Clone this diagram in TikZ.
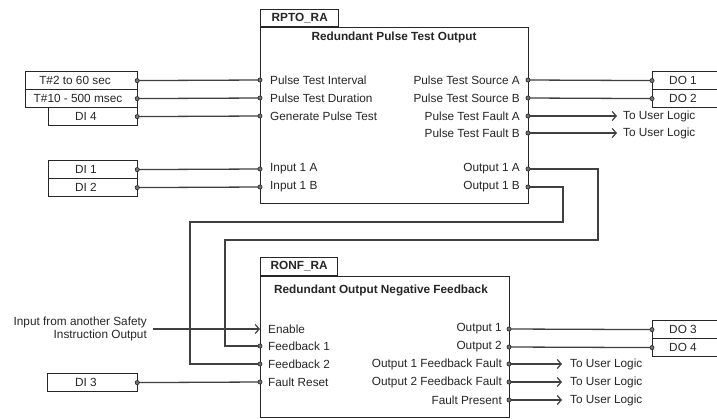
\documentclass[tikz,border=0pt]{standalone}
\usepackage{fontspec}
\setmainfont{Liberation Sans}
\usetikzlibrary{arrows.meta}
\begin{document}
\begin{tikzpicture}[x=1pt,y=-1pt,
  wire/.style={draw=black!75,line width=1.3pt},
  box/.style={draw=black!85,line width=1.4pt},
  lbl/.style={font=\fontsize{11.8}{13.5}\selectfont,inner sep=0pt,text=black!85},
  blbl/.style={font=\fontsize{11.8}{13.5}\selectfont\bfseries,inner sep=0pt,text=black!85},
  iobox/.style={draw=black!85,line width=1.2pt,inner sep=0pt},
  pin/.style={circle,draw=black!85,fill=black!55,line width=0.6pt,inner sep=0pt,minimum size=4.2pt},
  arr/.style={wire,-{Straight Barb[length=4pt,width=9pt,line width=1.2pt]}}
]
\clip (0,0) rectangle (717,419);
\fill[white] (0,0) rectangle (717,419);

% ---------------- RPTO_RA block ----------------
\node[box,minimum width=268pt,minimum height=176pt,inner sep=0pt,anchor=north west] (rpto) at (260,27) {};
\node[box,minimum width=78pt,minimum height=17pt,inner sep=0pt,anchor=south west] (rptotab) at (260,27) {};
\node[blbl] (rptoname) at (rptotab.center) {RPTO\_RA};
\node[blbl] (rptotitle) at (394,37) {Redundant Pulse Test Output};

\coordinate (pti) at (260,80);
\coordinate (ptd) at (260,98);
\coordinate (gpt) at (260,116);
\coordinate (i1a) at (260,169);
\coordinate (i1b) at (260,187);
\coordinate (psa) at (528,80);
\coordinate (psb) at (528,98);
\coordinate (pfa) at (528,116);
\coordinate (pfb) at (528,133);
\coordinate (o1a) at (528,169);
\coordinate (o1b) at (528,187);

\node[lbl,anchor=west] (lpti) at (270,80) {Pulse Test Interval};
\node[lbl,anchor=west] (lptd) at (270,98) {Pulse Test Duration};
\node[lbl,anchor=west] (lgpt) at (270,116) {Generate Pulse Test};
\node[lbl,anchor=west] (li1a) at (270,169) {Input 1 A};
\node[lbl,anchor=west] (li1b) at (270,187) {Input 1 B};
\node[lbl,anchor=east] (lpsa) at (520,80) {Pulse Test Source A};
\node[lbl,anchor=east] (lpsb) at (520,98) {Pulse Test Source B};
\node[lbl,anchor=east] (lpfa) at (520,116) {Pulse Test Fault A};
\node[lbl,anchor=east] (lpfb) at (520,133) {Pulse Test Fault B};
\node[lbl,anchor=east] (lo1a) at (520,169) {Output 1 A};
\node[lbl,anchor=east] (lo1b) at (520,187) {Output 1 B};

% input boxes
\node[iobox,minimum width=112pt,minimum height=18pt,anchor=north west] (t2) at (25,71) {};
\node[iobox,minimum width=112pt,minimum height=18pt,anchor=north west] (t10) at (25,89) {};
\node[iobox,minimum width=89pt,minimum height=18pt,anchor=north west] (di4) at (48,107) {};
\node[lbl] (tt2) at (75,80) {T\#2 to 60 sec};
\node[lbl] (tt10) at (78,98) {T\#10 - 500 msec};
\node[lbl] (tdi4) at (86,116) {DI 4};

\node[iobox,minimum width=89pt,minimum height=18pt,anchor=north west] (di1) at (48,160) {};
\node[iobox,minimum width=89pt,minimum height=18pt,anchor=north west] (di2) at (48,178) {};
\node[lbl] (tdi1) at (86,169) {DI 1};
\node[lbl] (tdi2) at (86,187) {DI 2};

% output boxes
\node[iobox,minimum width=80pt,minimum height=18pt,anchor=north west] (do1) at (652,71) {};
\node[iobox,minimum width=80pt,minimum height=18pt,anchor=north west] (do2) at (652,89) {};
\node[lbl] (tdo1) at (683,80) {DO 1};
\node[lbl] (tdo2) at (683,98) {DO 2};

\coordinate (ul1) at (617,116);
\coordinate (ul2) at (617,133);
\node[lbl,anchor=west] (tul1) at (623,116) {To User Logic};
\node[lbl,anchor=west] (tul2) at (623,133) {To User Logic};

\draw[wire] (t2.east) -- (pti);
\draw[wire] (t10.east) -- (ptd);
\draw[wire] (di4.east) -- (gpt);
\draw[wire] (di1.east) -- (i1a);
\draw[wire] (di2.east) -- (i1b);
\draw[wire] (psa) -- (do1.west);
\draw[wire] (psb) -- (do2.west);
\draw[arr] (pfa) -- (ul1);
\draw[arr] (pfb) -- (ul2);

% ---------------- RONF_RA block ----------------
\node[box,minimum width=249pt,minimum height=141pt,inner sep=0pt,anchor=north west] (ronf) at (260,276) {};
\node[box,minimum width=77pt,minimum height=18pt,inner sep=0pt,anchor=south west] (ronftab) at (260,276) {};
\node[blbl] (ronfname) at (ronftab.center) {RONF\_RA};
\node[blbl] (ronftitle) at (381,290) {Redundant Output Negative Feedback};

\coordinate (en) at (260,329);
\coordinate (fb1) at (260,346);
\coordinate (fb2) at (260,364);
\coordinate (fr) at (260,382);
\coordinate (out1) at (509,329);
\coordinate (out2) at (509,347);
\coordinate (f1f) at (509,364);
\coordinate (f2f) at (509,382);
\coordinate (fp) at (509,400);

\node[lbl,anchor=west] (len) at (268,329) {Enable};
\node[lbl,anchor=west] (lfb1) at (268,346) {Feedback 1};
\node[lbl,anchor=west] (lfb2) at (268,364) {Feedback 2};
\node[lbl,anchor=west] (lfr) at (268,382) {Fault Reset};
\node[lbl,anchor=east] (lout1) at (502,329) {Output 1};
\node[lbl,anchor=east] (lout2) at (502,347) {Output 2};
\node[lbl,anchor=east] (lf1f) at (502,364) {Output 1 Feedback Fault};
\node[lbl,anchor=east] (lf2f) at (502,382) {Output 2 Feedback Fault};
\node[lbl,anchor=east] (lfp) at (502,400) {Fault Present};

\node[lbl,anchor=east,align=right] (src) at (147,329) {Input from another Safety\\Instruction Output};
\coordinate (srcend) at (153,329);

\node[iobox,minimum width=90pt,minimum height=18pt,anchor=north west] (di3) at (47,373) {};
\node[lbl] (tdi3) at (86,382) {DI 3};

\node[iobox,minimum width=80pt,minimum height=18pt,anchor=north west] (do3) at (652,320) {};
\node[iobox,minimum width=80pt,minimum height=18pt,anchor=north west] (do4) at (652,338) {};
\node[lbl] (tdo3) at (683,329) {DO 3};
\node[lbl] (tdo4) at (683,347) {DO 4};

\coordinate (ul3) at (562,364);
\coordinate (ul4) at (562,382);
\coordinate (ul5) at (562,400);
\node[lbl,anchor=west] (tul3) at (570,364) {To User Logic};
\node[lbl,anchor=west] (tul4) at (570,382) {To User Logic};
\node[lbl,anchor=west] (tul5) at (570,400) {To User Logic};

\draw[arr] (srcend) -- (en);
\draw[wire] (di3.east) -- (fr);
\draw[wire] (out1) -- (do3.west);
\draw[wire] (out2) -- (do4.west);
\draw[arr] (f1f) -- (ul3);
\draw[arr] (f2f) -- (ul4);
\draw[arr] (fp) -- (ul5);

% feedback wires
\draw[wire] (o1a) -- (598,169) -- (598,240) -- (225,240) -- (225,346) -- (fb1);
\draw[wire] (o1b) -- (563,187) -- (563,222) -- (190,222) -- (190,364) -- (fb2);

% pin dots
\foreach \p in {pti,ptd,gpt,i1a,i1b,psa,psb,pfa,pfb,o1a,o1b,fb1,fb2,fr,out1,out2,f1f,f2f,fp}
  \node[pin] at (\p) {};
\foreach \b in {t2,t10,di4,di1,di2,di3}
  \node[pin] at ([xshift=-1pt]\b.east) {};
\foreach \b in {do1,do2,do3,do4}
  \node[pin] at (\b.west) {};
\end{tikzpicture}
\end{document}
